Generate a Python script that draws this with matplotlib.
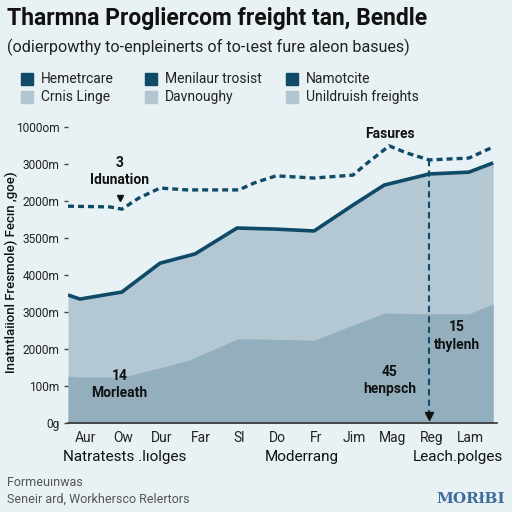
import matplotlib.pyplot as plt
from matplotlib.patches import Rectangle

# ---- data ----
months = ["Aur", "Ow", "Dur", "Far", "Sl", "Do", "Fr", "Jim", "Mag", "Reg", "Lam"]
y_tick_labels = ["0g", "100m", "2000m", "3000m", "4000m", "3500m", "2000m", "3000m", "1000om"]

total_x = [-0.44, -0.13, 0.96, 1.95, 2.86, 3.95, 4.96, 5.95, 6.96, 7.77, 8.94, 9.97, 10.6]
total_y = [3.46, 3.35, 3.54, 4.32, 4.57, 5.27, 5.24, 5.19, 5.89, 6.43, 6.73, 6.78, 7.03]

base_x = [-0.44, -0.13, 0.96, 1.95, 2.7, 3.95, 4.5, 5.95, 7.77, 8.94, 9.97, 10.6]
base_y = [1.27, 1.24, 1.24, 1.49, 1.70, 2.27, 2.27, 2.24, 2.97, 2.95, 2.95, 3.22]

target_x = [-0.44, 0.65, 0.96, 1.4, 1.95, 2.65, 4.0, 4.4, 4.96, 5.95, 6.96, 7.3, 7.9, 8.35, 8.94, 9.97, 10.6]
target_y = [5.86, 5.84, 5.78, 6.08, 6.35, 6.30, 6.30, 6.49, 6.68, 6.62, 6.70, 7.0, 7.49, 7.30, 7.11, 7.16, 7.46]

legend_dark = ["Hemetrcare", "Menilaur trosist", "Namotcite"]
legend_light = ["Crnis Linge", "Davnoughy", "Unildruish freights"]
groups = ["Natratests .lıolges", "Moderrang", "Leach.polges"]

BG = "#e8f1f3"
DARK = "#0f4a68"
UPPER = "#b3c8d3"
LOWER = "#93afbd"

plt.rcParams["font.family"] = ["Roboto", "DejaVu Sans"]

fig = plt.figure(figsize=(5.12, 5.12), dpi=100, facecolor=BG)
ax = fig.add_axes([68 / 512, 1 - 423 / 512, 429 / 512, 296 / 512], facecolor=BG)

ax.fill_between(total_x, 0, total_y, color=UPPER, lw=0)
ax.fill_between(base_x, 0, base_y, color=LOWER, lw=0)
ax.plot(total_x, total_y, color=DARK, lw=2.6, solid_capstyle="butt")
ax.plot(target_x, target_y, color=DARK, lw=2.4, ls=(0, (1.8, 1.2)))

# vertical marker at Reg
ax.plot([8.94, 8.94], [7.11, 0.25], color=DARK, lw=1.5, ls=(0, (3, 2)))
ax.plot([8.94], [0.2], marker="v", color="#111", ms=6)
ax.plot([0.9], [6.08], marker="v", color="#111", ms=4.5)

ax.set_xlim(-0.44, 10.7)
ax.set_ylim(0, 8)
ax.set_xticks(range(len(months)))
ax.set_xticklabels(months, fontsize=10, color="#222")
ax.set_yticks(range(len(y_tick_labels)))
ax.set_yticklabels(y_tick_labels, fontsize=8.6, color="#222")
ax.tick_params(axis="y", length=3, width=1, color="#444", pad=3)
ax.tick_params(axis="x", length=0, pad=6)
for s in ["top", "right", "left"]:
    ax.spines[s].set_visible(False)
ax.spines["bottom"].set_color("#333")
ax.spines["bottom"].set_linewidth(1.2)

ax.set_ylabel("Inatntlaiionl Fresmole) Fecın ,goe)", fontsize=9.5, color="#111",
              fontweight="medium")
ax.yaxis.set_label_coords(-0.117, 0.51)

# annotations
ann = dict(ha="center", va="center", fontsize=10, fontweight="bold", color="#111")
ax.text(0.9, 6.8, "3\nIdunation", linespacing=1.3, **ann)
ax.text(7.92, 7.8, "Fasures", **ann)
ax.text(0.9, 1.05, "14\nMorleath", linespacing=1.3, **ann)
ax.text(7.92, 1.15, "45\nhenpsch", linespacing=1.3, **ann)
ax.text(9.65, 2.35, "15\nthylenh", linespacing=1.3, **ann)

# titles
fig.text(7 / 512, 1 - 18 / 512, "Tharmna Progliercom freight tan, Bendle", fontsize=16.5,
         fontweight="bold", color="#111", va="center")
fig.text(7 / 512, 1 - 47 / 512, "(odierpowthy to-enpleinerts of to-ιest fure aleon basues)",
         fontsize=11.6, color="#222", va="center")

# legend
cols_sq = [21, 145, 286]
for i in range(3):
    for j, (lab, col) in enumerate([(legend_dark[i], DARK), (legend_light[i], "#b2c6d2")]):
        yc = 79 + j * 18
        fig.patches.append(Rectangle((cols_sq[i] / 512, 1 - (yc + 6) / 512), 12 / 512, 12 / 512,
                                     transform=fig.transFigure, color=col))
        fig.text((cols_sq[i] + 20) / 512, 1 - yc / 512, lab, fontsize=10, color="#222", va="center")

# group labels
for lab, xc in zip(groups, [125, 302, 458]):
    fig.text(xc / 512, 1 - 457 / 512, lab, fontsize=11, color="#111", ha="center", va="center")

# footer
fig.text(7 / 512, 1 - 482 / 512, "Formeuınwas", fontsize=9, color="#555", va="center")
fig.text(7 / 512, 1 - 499 / 512, "Seneir ard, Workhersco Relertors", fontsize=9, color="#555", va="center")
fig.text(505 / 512, 1 - 499 / 512, "MORłBI", fontsize=11, fontweight="bold", family="DejaVu Serif",
         color="#3e6d9c", ha="right", va="center")

fig.savefig("out.png", dpi=100, facecolor=BG)
